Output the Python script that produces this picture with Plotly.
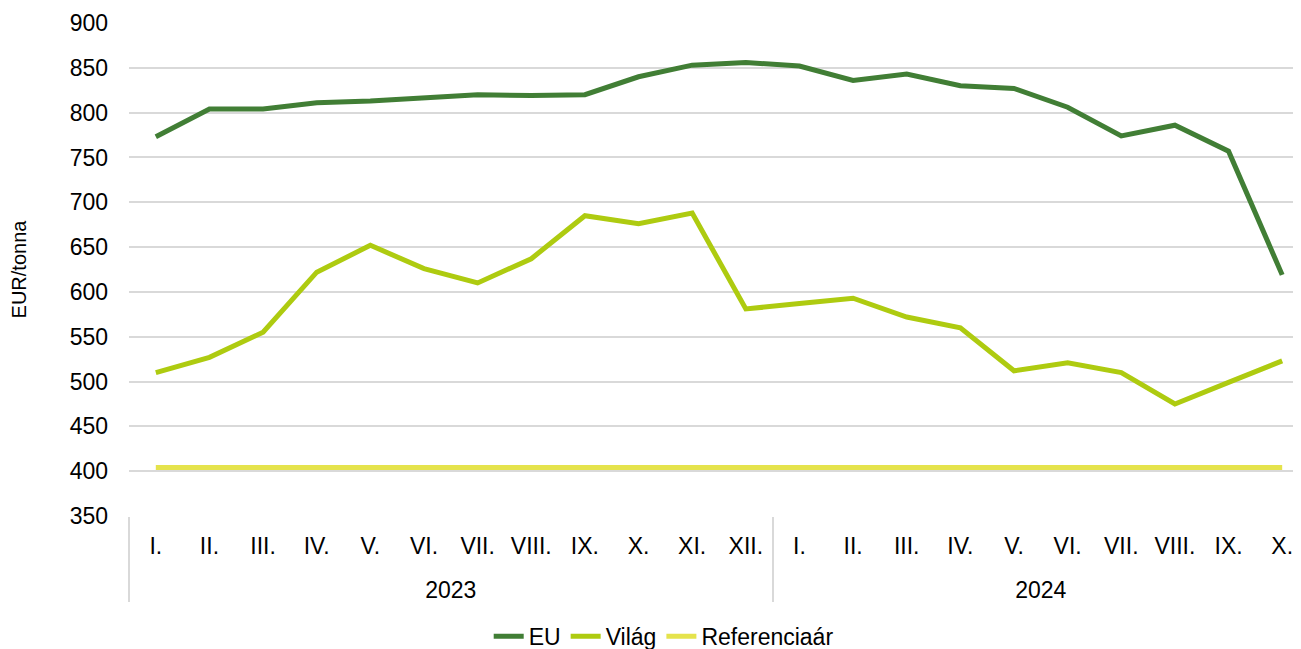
import plotly.graph_objects as go

years = ["2023"] * 12 + ["2024"] * 10
months = ["I.", "II.", "III.", "IV.", "V.", "VI.", "VII.", "VIII.", "IX.", "X.", "XI.", "XII.",
          "I.", "II.", "III.", "IV.", "V.", "VI.", "VII.", "VIII.", "IX.", "X."]
eu = [773, 804, 804, 811, 813, 816, 820, 819, 820, 840, 853, 856,
      852, 836, 843, 830, 827, 806, 774, 786, 757, 619]
vilag = [510, 527, 555, 622, 652, 626, 610, 637, 685, 676, 688, 581,
         587, 593, 572, 560, 512, 521, 510, 475, 499, 523]
referencia = [404] * 22

idx = list(range(len(months)))
year_names = sorted(set(years))
year_centers = [(years.index(y) + len(years) - 1 - years[::-1].index(y)) / 2 for y in year_names]
boundaries = [-0.5] + [years.index(y) - 0.5 for y in year_names[1:]] + [len(years) - 0.5]

fig = go.Figure()
fig.add_trace(go.Scatter(x=idx, y=eu, name="EU", mode="lines",
                         line=dict(color="#417e35", width=5)))
fig.add_trace(go.Scatter(x=idx, y=vilag, name="Világ", mode="lines",
                         line=dict(color="#aecb10", width=5)))
fig.add_trace(go.Scatter(x=idx, y=referencia, name="Referenciaár", mode="lines",
                         line=dict(color="#e5e34c", width=5)))

xr = [-0.5, len(months) - 0.5]
fig.update_layout(
    width=1301, height=649,
    margin=dict(l=121, r=0, t=15, b=141),
    paper_bgcolor="white", plot_bgcolor="white",
    font=dict(family="Liberation Sans, Arial, sans-serif", size=23, color="#000000"),
    legend=dict(orientation="h", xref="container", yref="container",
                x=0.504, xanchor="center", y=0.032, yanchor="middle",
                font=dict(size=23)),
    xaxis=dict(range=xr, tickvals=idx, ticktext=months, showgrid=False, showline=False,
               zeroline=False, ticks="", ticklabelstandoff=14, automargin=False,
               tickfont=dict(size=23)),
    xaxis2=dict(overlaying="x", side="bottom", anchor="y", range=xr,
                tickvals=year_centers, ticktext=year_names, showgrid=False, showline=False,
                zeroline=False, ticks="", ticklabelstandoff=58, automargin=False,
                tickfont=dict(size=23)),
    xaxis3=dict(overlaying="x", side="bottom", anchor="y", range=xr,
                tickvals=boundaries, ticktext=[""] * len(boundaries), showgrid=False,
                showline=False, zeroline=False, ticks="outside", ticklen=85,
                tickcolor="#d9d9d9", tickwidth=1.5, automargin=False),
    yaxis=dict(range=[350, 900], dtick=50, showgrid=True, gridcolor="#d9d9d9", gridwidth=1.5,
               zeroline=False, showline=False, ticks="", ticklabelstandoff=20,
               automargin=False,
               title=dict(text="EUR/tonna", font=dict(size=20), standoff=40),
               tickfont=dict(size=23)),
)
# invisible traces to activate the overlay axes
fig.add_trace(go.Scatter(x=[], y=[], xaxis="x2", showlegend=False, hoverinfo="skip"))
fig.add_trace(go.Scatter(x=[], y=[], xaxis="x3", showlegend=False, hoverinfo="skip"))
fig.write_html("out.html")
